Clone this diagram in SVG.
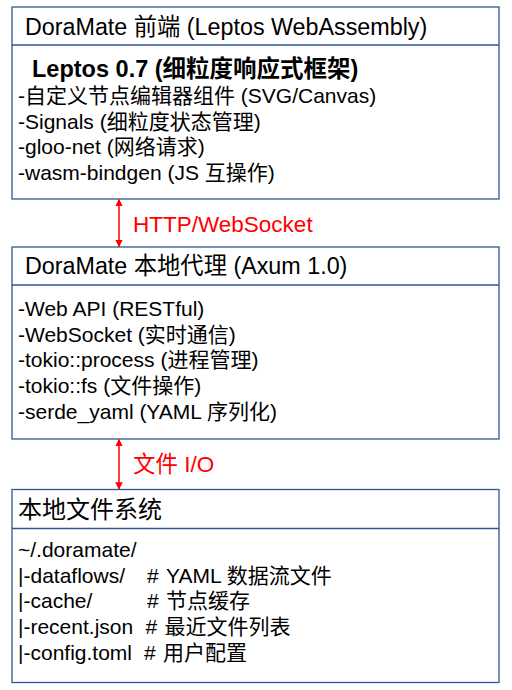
<svg xmlns="http://www.w3.org/2000/svg" width="512" height="690" viewBox="0 0 512 690">
<defs>
<style>
.box{fill:#ffffff;stroke:#2f5597;stroke-width:1.3}
.div{stroke:#2f5597;stroke-width:1.3}
text{font-family:"Liberation Sans","Noto Sans CJK SC",sans-serif;fill:#000000}
.title{font-size:23.3px}
.body{font-size:21px}
.bold{font-size:23.5px;font-weight:bold}
.lbl{font-size:22.5px;fill:#ff0000}
.conn{stroke:#ff0000;stroke-width:1.5;fill:none;marker-start:url(#ah);marker-end:url(#ah)}
</style>
<marker id="ah" viewBox="0 0 10 10" refX="9" refY="5" markerWidth="5" markerHeight="5" orient="auto-start-reverse" markerUnits="strokeWidth">
<path d="M0,0 L10,5 L0,10 Z" fill="#ff0000"/>
</marker>
</defs>
<rect width="512" height="690" fill="#ffffff"/>
<g id="frontend">
<rect class="box" x="12" y="7" width="487" height="192"/>
<line class="div" x1="12" y1="45" x2="499" y2="45"/>
<text class="title" x="25" y="35">DoraMate 前端 (Leptos WebAssembly)</text>
<text class="bold" x="32" y="77">Leptos 0.7 (细粒度响应式框架)</text>
<text class="body" x="18" y="103">-自定义节点编辑器组件 (SVG/Canvas)</text>
<text class="body" x="18" y="128.5">-Signals (细粒度状态管理)</text>
<text class="body" x="18" y="154">-gloo-net (网络请求)</text>
<text class="body" x="18" y="179.5">-wasm-bindgen (JS 互操作)</text>
</g>
<g id="proxy">
<rect class="box" x="12" y="247" width="487" height="192"/>
<line class="div" x1="12" y1="285" x2="499" y2="285"/>
<text class="title" x="25" y="274">DoraMate 本地代理 (Axum 1.0)</text>
<text class="body" x="18" y="316">-Web API (RESTful)</text>
<text class="body" x="18" y="341.7">-WebSocket (实时通信)</text>
<text class="body" x="18" y="367.4">-tokio::process (进程管理)</text>
<text class="body" x="18" y="393.1">-tokio::fs (文件操作)</text>
<text class="body" x="18" y="418.8">-serde_yaml (YAML 序列化)</text>
</g>
<g id="filesystem">
<rect class="box" x="12" y="489.5" width="487" height="193"/>
<line class="div" x1="12" y1="528.5" x2="499" y2="528.5"/>
<text class="title" x="18" y="518" style="font-size:24px">本地文件系统</text>
<text class="body" x="18" y="557">~/.doramate/</text>
<text class="body" x="18" y="582.7">|-dataflows/<tspan x="147">#</tspan><tspan x="166">YAML 数据流文件</tspan></text>
<text class="body" x="18" y="608.4">|-cache/<tspan x="147">#</tspan><tspan x="166">节点缓存</tspan></text>
<text class="body" x="18" y="634.1">|-recent.json<tspan x="145.5">#</tspan><tspan x="164.5">最近文件列表</tspan></text>
<text class="body" x="18" y="659.8">|-config.toml<tspan x="144">#</tspan><tspan x="163">用户配置</tspan></text>
</g>
<g id="connectors">
<line class="conn" x1="119" y1="199.5" x2="119" y2="246.5"/>
<line class="conn" x1="119" y1="439.5" x2="119" y2="489"/>
<text class="lbl" x="133" y="232">HTTP/WebSocket</text>
<text class="lbl" x="133" y="472">文件 I/O</text>
</g>
</svg>
